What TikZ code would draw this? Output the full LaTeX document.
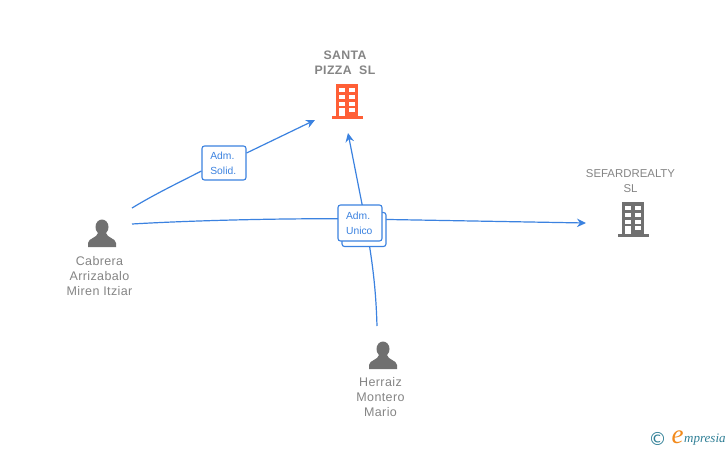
\documentclass[tikz,border=0pt]{standalone}
\usepackage{fontspec}
\setmainfont{Liberation Sans}
\newfontfamily\logofont{Liberation Serif}
\newfontfamily\symfont{DejaVu Sans}
\newfontfamily\spaced[LetterSpace=3]{Liberation Sans}
\usetikzlibrary{arrows.meta}
\definecolor{edgeblue}{HTML}{3B82E0}
\definecolor{greytxt}{HTML}{858585}
\definecolor{icongrey}{HTML}{707070}
\definecolor{redicon}{HTML}{FF5F36}
\definecolor{teal2}{HTML}{2F7F96}
\definecolor{orange2}{HTML}{F28A1C}
\tikzset{
  x=1pt,y=-1pt,
  lbl/.style={text=greytxt,font=\spaced\fontsize{12.5}{15}\selectfont,align=center,inner sep=0pt},
  lblc/.style={text=greytxt,font=\fontsize{11.4}{15}\selectfont,align=center,inner sep=0pt},
  lblb/.style={text=greytxt,font=\spaced\fontsize{12.3}{15}\selectfont\bfseries,align=center,inner sep=0pt},
  role/.style={draw=edgeblue,fill=white,rounded corners=2.5pt,line width=1.1pt,minimum width=44pt,inner sep=0pt,
     text=edgeblue,font=\fontsize{10.3}{15}\selectfont,align=left},
  conn/.style={draw=edgeblue,line width=1.2pt},
  tip/.style={-{Stealth[length=9pt,width=8.5pt]}},
}
\newcommand{\rl}[1]{\kern-1.5pt\raisebox{-1pt}{#1}}
\newcommand{\bldg}[3]{%
  \begin{scope}[shift={(#1,#2)}]
    \fill[#3] (0,0) rectangle (22,32.5);
    \fill[#3] (-4,32) rectangle (27,34.5);
    \foreach \yy in {4,11,17.5}{
      \fill[white] (3.2,\yy) rectangle (8.7,\yy+4.2);
      \fill[white] (13.2,\yy) rectangle (18.7,\yy+4.2);
    }
    \fill[white] (13.2,24) rectangle (18.7,28.2);
    \fill[white] (3.2,24) rectangle (8.7,32);
  \end{scope}}
\newcommand{\persona}[2]{%
  \begin{scope}[shift={(#1,#2)}]
    \fill[icongrey] (0,7) ellipse (6.5 and 7.5);
    \fill[icongrey] (-14,27) -- (-14,23) .. controls (-13.5,18) and (-5,18) .. (-4,13)
       -- (4,13) .. controls (5,18) and (13.5,18) .. (14,23) -- (14,27) -- cycle;
  \end{scope}}
\begin{document}
\begin{tikzpicture}
\useasboundingbox (0,0) rectangle (728,450);
\fill[white] (0,0) rectangle (728,450);

\coordinate (cabA) at (132,208);
\coordinate (cabB) at (132,224);
\coordinate (her) at (377,326);
\coordinate (santa) at (315,120);
\coordinate (santaB) at (348,133);
\coordinate (sef) at (586,223);

\node[role,minimum height=34pt] (solid) at (224,163) {\rl{Adm.}\\\rl{Solid.}};

\draw[conn] (cabA) .. controls (155,194) and (180,182) .. (solid.west |- 0,171);
\draw[conn,tip] (solid.east |- 0,153) -- (santa);
\draw[conn,tip] (cabB) .. controls (200,220) and (300,218) .. (360,219) -- (sef);
\draw[conn,tip] (her) .. controls (376,295) and (374,265) .. (362,204) -- (santaB);

\node[role,minimum height=34pt] (unicoB) at (364,229.5) {\phantom{Adm.}};
\node[role,minimum height=36pt] (unico) at (360,223) {\rl{Adm.}\\\rl{Unico}};

\bldg{336}{84}{redicon}
\bldg{622}{202}{icongrey}
\persona{102}{220}
\persona{383}{342}

\node[lblb] (tsanta) at (345,62.5) {SANTA\\PIZZA\ \ SL};
\node[lblc] (tsef) at (630.5,181) {SEFARDREALTY\\SL};
\node[lbl] (tcab) at (99.5,276) {Cabrera\\Arrizabalo\\Miren Itziar};
\node[lbl] (ther) at (380.5,397) {Herraiz\\Montero\\Mario};

\node[inner sep=0pt,text=teal2,font=\symfont\fontsize{18}{18}\selectfont] (copy) at (657.5,438.5) {©};
\node[inner sep=0pt,text=orange2,font=\logofont\itshape\fontsize{27}{27}\selectfont] (elogo) at (677.5,437) {e};
\node[inner sep=0pt,anchor=west,text=teal2,font=\logofont\itshape\fontsize{13}{14}\selectfont] (mlogo) at (684,440) {mpresia};
\end{tikzpicture}
\end{document}
